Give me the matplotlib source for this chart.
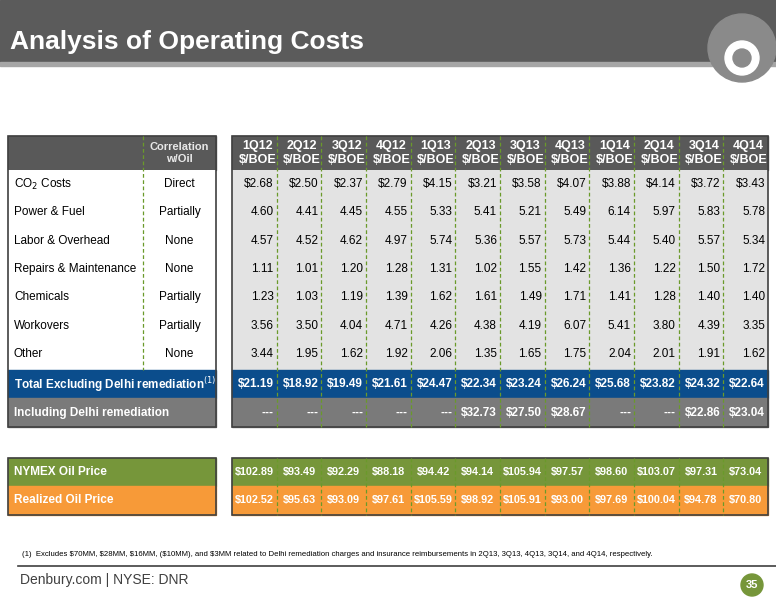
import matplotlib
matplotlib.use("Agg")
import matplotlib.pyplot as plt
from matplotlib.patches import Rectangle, Circle

plt.rcParams['font.family'] = ['Liberation Sans', 'DejaVu Sans']

quarters = ["1Q12", "2Q12", "3Q12", "4Q12", "1Q13", "2Q13", "3Q13", "4Q13", "1Q14", "2Q14", "3Q14", "4Q14"]
row_labels = ["CO$_2$ Costs", "Power & Fuel", "Labor & Overhead", "Repairs & Maintenance",
              "Chemicals", "Workovers", "Other"]
correlation = ["Direct", "Partially", "None", "None", "Partially", "Partially", "None"]
co2 = [2.68, 2.50, 2.37, 2.79, 4.15, 3.21, 3.58, 4.07, 3.88, 4.14, 3.72, 3.43]
power = [4.60, 4.41, 4.45, 4.55, 5.33, 5.41, 5.21, 5.49, 6.14, 5.97, 5.83, 5.78]
labor = [4.57, 4.52, 4.62, 4.97, 5.74, 5.36, 5.57, 5.73, 5.44, 5.40, 5.57, 5.34]
repairs = [1.11, 1.01, 1.20, 1.28, 1.31, 1.02, 1.55, 1.42, 1.36, 1.22, 1.50, 1.72]
chemicals = [1.23, 1.03, 1.19, 1.39, 1.62, 1.61, 1.49, 1.71, 1.41, 1.28, 1.40, 1.40]
workovers = [3.56, 3.50, 4.04, 4.71, 4.26, 4.38, 4.19, 6.07, 5.41, 3.80, 4.39, 3.35]
other = [3.44, 1.95, 1.62, 1.92, 2.06, 1.35, 1.65, 1.75, 2.04, 2.01, 1.91, 1.62]
total_ex = [21.19, 18.92, 19.49, 21.61, 24.47, 22.34, 23.24, 26.24, 25.68, 23.82, 24.32, 22.64]
incl_delhi = [None, None, None, None, None, 32.73, 27.50, 28.67, None, None, 22.86, 23.04]
nymex = [102.89, 93.49, 92.29, 88.18, 94.42, 94.14, 105.94, 97.57, 98.60, 103.07, 97.31, 73.04]
realized = [102.52, 95.63, 93.09, 97.61, 105.59, 98.92, 105.91, 93.00, 97.69, 100.04, 94.78, 70.80]
cost_rows = [co2, power, labor, repairs, chemicals, workovers, other]

fig = plt.figure(figsize=(7.76, 6.0), dpi=100)
ax = fig.add_axes([0, 0, 1, 1])
ax.set_xlim(0, 776); ax.set_ylim(600, 0); ax.axis('off')

# title bar
ax.add_patch(Rectangle((0, 0), 776, 62, color='#5b5b5b'))
ax.add_patch(Rectangle((0, 62), 776, 4, color='#a6a6a6'))
ax.text(10, 42, "Analysis of Operating Costs", color='white', fontsize=19, fontweight='bold', va='center')
ax.add_patch(Circle((742, 48), 34, color='#8a8a8a', zorder=3))
ax.add_patch(Circle((742, 58), 17, color='white', zorder=3))
ax.add_patch(Circle((742, 58), 9, color='#8a8a8a', zorder=3))

LX0, LX1, LX2 = 8, 143, 216
RX0, RX1 = 232, 768
cw = (RX1 - RX0) / 12
hy0, hy1 = 136, 170
rh = 28.3
GREEN_DASH = '#6a9a2a'

def vlines(y0, y1, left_end=None):
    if left_end is not None:
        ax.plot([LX1, LX1], [y0, left_end], color=GREEN_DASH, lw=0.9, ls=(0, (3, 2)))
    for i in range(1, 12):
        x = RX0 + i * cw
        ax.plot([x, x], [y0, y1], color=GREEN_DASH, lw=0.9, ls=(0, (3, 2)))

# header
ax.add_patch(Rectangle((LX0, hy0), LX2 - LX0, hy1 - hy0, color='#595959'))
ax.add_patch(Rectangle((RX0, hy0), RX1 - RX0, hy1 - hy0, color='#595959'))
ax.text((LX1 + LX2) / 2, (hy0 + hy1) / 2, "Correlation\nw/Oil", color='#e8e8e8', fontsize=8,
        fontweight='bold', ha='center', va='center', linespacing=1.3)
for i, q in enumerate(quarters):
    ax.text(RX0 + (i + 0.5) * cw + 3, (hy0 + hy1) / 2, q + "\n$/BOE", color='white', fontsize=9,
            fontweight='bold', ha='center', va='center', linespacing=1.2)

# body
by0 = hy1
by1 = by0 + rh * 7 + 2
ax.add_patch(Rectangle((LX0, by0), LX2 - LX0, by1 - by0, facecolor='white', edgecolor='none'))
ax.add_patch(Rectangle((RX0, by0), RX1 - RX0, by1 - by0, facecolor='#e3e3e3', edgecolor='none'))
for r, (lab, cor, vals) in enumerate(zip(row_labels, correlation, cost_rows)):
    y = by0 + rh * (r + 0.5)
    ax.text(LX0 + 6, y, lab, fontsize=8.5, va='center')
    ax.text((LX1 + LX2) / 2, y, cor, fontsize=8.5, va='center', ha='center')
    for i, v in enumerate(vals):
        s = f"${v:.2f}" if r == 0 else f"{v:.2f}"
        ax.text(RX0 + (i + 1) * cw - 3, y, s, fontsize=8.5, va='center', ha='right')

# total rows
ty0 = by1
for k, (lab, vals, col) in enumerate([("Total Excluding Delhi remediation$^{(1)}$", total_ex, '#0b4d8c'),
                                      ("Including Delhi remediation", incl_delhi, '#7a7a7a')]):
    y0 = ty0 + k * rh
    ax.add_patch(Rectangle((LX0, y0), LX2 - LX0, rh, color=col))
    ax.add_patch(Rectangle((RX0, y0), RX1 - RX0, rh, color=col))
    ax.text(LX0 + 6, y0 + rh / 2, lab, color='white', fontsize=8.5, fontweight='bold', va='center')
    for i, v in enumerate(vals):
        s = "---" if v is None else f"${v:.2f}"
        ax.text(RX0 + (i + 1) * cw - 3, y0 + rh / 2, s, color='white', fontsize=8.5,
                fontweight='bold', va='center', ha='right')
tend = ty0 + 2 * rh
ax.add_patch(Rectangle((LX0, hy0), LX2 - LX0, tend - hy0, fill=False, edgecolor='#404040', lw=1.2))
ax.add_patch(Rectangle((RX0, hy0), RX1 - RX0, tend - hy0, fill=False, edgecolor='#404040', lw=1.2))
vlines(hy0, tend, left_end=by1)

# oil prices
oy0 = 458
for k, (lab, vals, col) in enumerate([("NYMEX Oil Price", nymex, '#76963a'),
                                      ("Realized Oil Price", realized, '#f79a38')]):
    y0 = oy0 + k * rh
    ax.add_patch(Rectangle((LX0, y0), LX2 - LX0, rh, color=col))
    ax.add_patch(Rectangle((RX0, y0), RX1 - RX0, rh, color=col))
    ax.text(LX0 + 6, y0 + rh / 2, lab, color='white', fontsize=8.5, fontweight='bold', va='center')
    for i, v in enumerate(vals):
        ax.text(RX0 + (i + 0.5) * cw, y0 + rh / 2, f"${v:.2f}", color='white', fontsize=7.8,
                fontweight='bold', va='center', ha='center')
oend = oy0 + 2 * rh
ax.add_patch(Rectangle((LX0, oy0), LX2 - LX0, oend - oy0, fill=False, edgecolor='#404040', lw=1.2))
ax.add_patch(Rectangle((RX0, oy0), RX1 - RX0, oend - oy0, fill=False, edgecolor='#404040', lw=1.2))
vlines(oy0, oend)

ax.text(22, 555, "(1)  Excludes $70MM, $28MM, $16MM, ($10MM), and $3MM related to Delhi remediation charges and insurance reimbursements in 2Q13, 3Q13, 4Q13, 3Q14, and 4Q14, respectively.",
        fontsize=5.6, va='center')
ax.plot([18, 776], [566, 566], color='#404040', lw=1.2)
ax.text(20, 580, "Denbury.com | NYSE: DNR", fontsize=10, color='#404040', va='center')
ax.add_patch(Circle((752, 585), 11, color='#76963a'))
ax.text(752, 585, "35", color='white', fontsize=8, fontweight='bold', ha='center', va='center')

fig.savefig("out.png", dpi=100)
